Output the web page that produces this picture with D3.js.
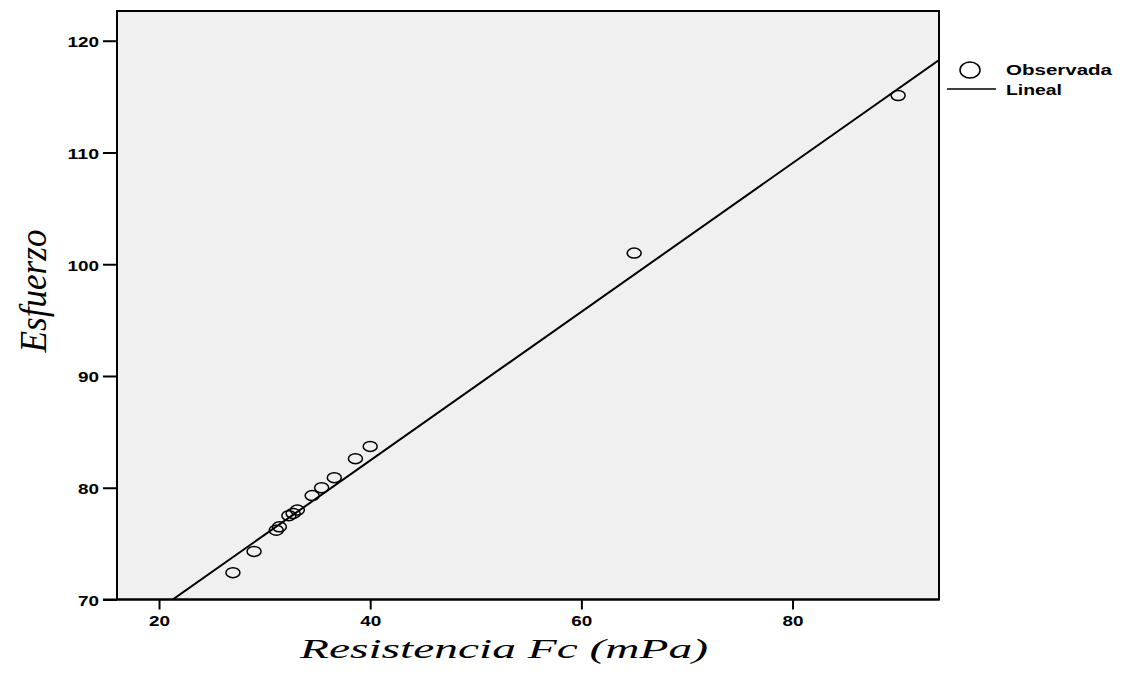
<!DOCTYPE html>
<html>
<head>
<meta charset="utf-8">
<script src="https://cdn.jsdelivr.net/npm/d3@7"></script>
<style>
  body { margin: 0; background: #fff; }
  svg { display: block; }
</style>
</head>
<body>
<svg id="chart" width="1127" height="677"></svg>
<script>
// Data
const resistencia = [27, 29, 31.1, 31.4, 32.3, 32.7, 33.1, 34.5, 35.4, 36.6, 38.6, 40.0, 65, 90];
const esfuerzo    = [72.4, 74.3, 76.2, 76.5, 77.5, 77.7, 78.0, 79.3, 80.0, 80.9, 82.6, 83.7, 101, 115.1];
const xTicks = [20, 40, 60, 80];
const yTicks = [70, 80, 90, 100, 110, 120];
const fitIntercept = 55.83;
const fitSlope = 0.6652;
const legendLabels = ["Observada", "Lineal"];
const xTitle = "Resistencia Fc (mPa)";
const yTitle = "Esfuerzo";

const svg = d3.select("#chart");
const pL = 117, pR = 939, pT = 11, pB = 599.5;

const x = d3.scaleLinear().domain([16.02, 93.87]).range([pL, pR]);
const y = d3.scaleLinear().domain([70, 122.66]).range([pB, pT]);

// plot background
svg.append("rect")
  .attr("x", pL).attr("y", pT)
  .attr("width", pR - pL).attr("height", pB - pT)
  .attr("fill", "#f0f0f0");

svg.append("defs").append("clipPath").attr("id", "clip")
  .append("rect").attr("x", pL).attr("y", pT)
  .attr("width", pR - pL).attr("height", pB - pT);

// regression line
const xd = x.domain();
svg.append("line")
  .attr("clip-path", "url(#clip)")
  .attr("x1", x(xd[0])).attr("y1", y(fitIntercept + fitSlope * xd[0]))
  .attr("x2", x(xd[1])).attr("y2", y(fitIntercept + fitSlope * xd[1]))
  .attr("stroke", "#000").attr("stroke-width", 2);

// points
svg.append("g").selectAll("ellipse")
  .data(resistencia.map((v, i) => [v, esfuerzo[i]]))
  .join("ellipse")
  .attr("cx", d => x(d[0])).attr("cy", d => y(d[1]))
  .attr("rx", 7).attr("ry", 5)
  .attr("fill", "none").attr("stroke", "#000").attr("stroke-width", 1.5);

// frame
svg.append("rect")
  .attr("x", pL).attr("y", pT)
  .attr("width", pR - pL).attr("height", pB - pT)
  .attr("fill", "none").attr("stroke", "#000").attr("stroke-width", 2);

// x axis baseline extends left
svg.append("line")
  .attr("x1", 103).attr("x2", pR).attr("y1", pB).attr("y2", pB)
  .attr("stroke", "#000").attr("stroke-width", 2);

const tickFont = "'Liberation Sans', Arial, sans-serif";
function styleTicks(sel) {
  sel.attr("font-family", tickFont).attr("font-weight", "bold").attr("font-size", 14).attr("fill", "#000")
    .attr("lengthAdjust", "spacingAndGlyphs")
    .attr("textLength", function() { return this.textContent.length * 10.5; });
}

const gy = svg.append("g").attr("transform", `translate(${pL},0)`)
  .call(d3.axisLeft(y).tickValues(yTicks).tickSize(14).tickPadding(4).tickFormat(d3.format("d")));
gy.select(".domain").remove();
gy.selectAll("line").attr("stroke-width", 2);
gy.selectAll("text").attr("dy", "0.42em").call(styleTicks);

const gx = svg.append("g").attr("transform", `translate(0,${pB})`)
  .call(d3.axisBottom(x).tickValues(xTicks).tickSize(10).tickPadding(7).tickFormat(d3.format("d")));
gx.select(".domain").remove();
gx.selectAll("line").attr("stroke-width", 2);
gx.selectAll("text").call(styleTicks);

// axis titles
svg.append("text")
  .attr("x", 504).attr("y", 658)
  .attr("text-anchor", "middle")
  .attr("font-family", "'Liberation Serif', 'Times New Roman', serif")
  .attr("font-style", "italic").attr("font-size", 28)
  .attr("textLength", 408).attr("lengthAdjust", "spacingAndGlyphs")
  .text(xTitle);

svg.append("text")
  .attr("transform", "translate(46,291) scale(1.4,1) rotate(-90)")
  .attr("text-anchor", "middle")
  .attr("font-family", "'Liberation Serif', 'Times New Roman', serif")
  .attr("font-style", "italic").attr("font-size", 27)
  .attr("textLength", 123).attr("lengthAdjust", "spacingAndGlyphs")
  .text(yTitle);

// legend
const lg = svg.append("g");
lg.append("ellipse").attr("cx", 970).attr("cy", 70).attr("rx", 10).attr("ry", 8)
  .attr("fill", "none").attr("stroke", "#000").attr("stroke-width", 1.5);
lg.append("line").attr("x1", 947).attr("x2", 996).attr("y1", 89).attr("y2", 89)
  .attr("stroke", "#000").attr("stroke-width", 1.5);
lg.selectAll("text").data(legendLabels).join("text")
  .attr("x", 1006).attr("y", (d, i) => 75 + i * 20)
  .attr("font-family", tickFont).attr("font-weight", "bold").attr("font-size", 14)
  .attr("lengthAdjust", "spacingAndGlyphs")
  .attr("textLength", (d, i) => [106, 56][i])
  .text(d => d);
</script>
</body>
</html>
